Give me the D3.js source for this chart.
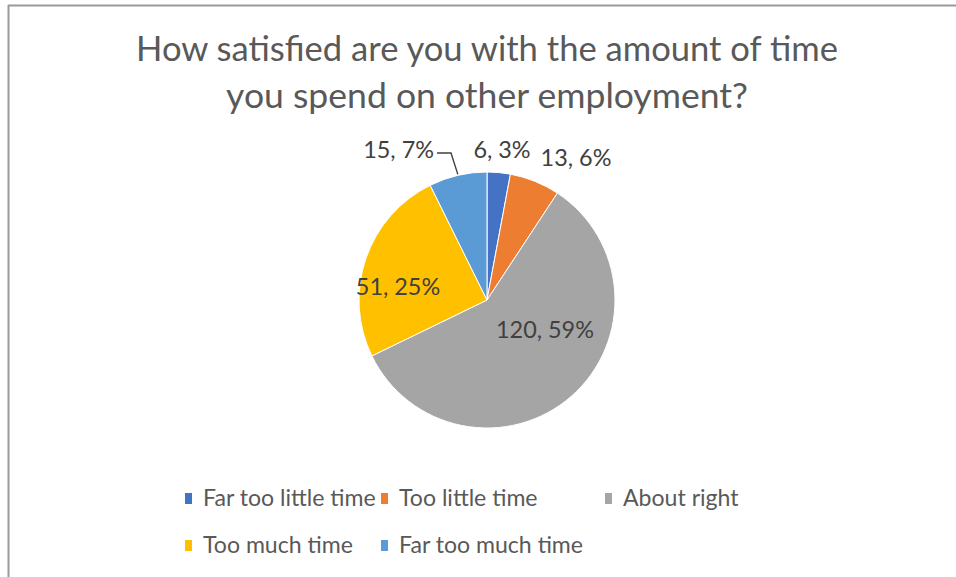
<!DOCTYPE html>
<html><head><meta charset="utf-8">
<script src="https://cdn.jsdelivr.net/npm/d3@7"></script>
<style>html,body{margin:0;padding:0;background:#fff;}svg{display:block;}</style>
</head><body>
<svg id="c" width="956" height="577"></svg>
<script>
const categories = ["Far too little time","Too little time","About right","Too much time","Far too much time"];
const values = [6, 13, 120, 51, 15];
const colors = ["#4472C4","#ED7D31","#A5A5A5","#FFC000","#5B9BD5"];
const titleLines = ["How satisfied are you with the amount of time","you spend on other employment?"];

const W = 956, H = 577;
const svg = d3.select("#c");
svg.append("rect").attr("width",W).attr("height",H).attr("fill","#fff");
svg.append("line").attr("x1",8).attr("x2",W).attr("y1",5.5).attr("y2",5.5).attr("stroke","#9a9a9a").attr("stroke-width",2);
svg.append("line").attr("x1",8.5).attr("x2",8.5).attr("y1",5).attr("y2",H).attr("stroke","#9a9a9a").attr("stroke-width",2);

const font = "Lato, 'Open Sans', sans-serif";
const titleY = [61, 108];
const titleW = [702, 522];
titleLines.forEach((t,i)=>{
  const el = svg.append("text").attr("x",487).attr("y",titleY[i]).attr("text-anchor","middle")
    .attr("font-family",font).attr("font-size",28).attr("fill","#595959").text(t);
  const w = el.node().getComputedTextLength();
  el.attr("font-size", 28*titleW[i]/w);
});

const cx = 487, cy = 300, R = 128;
const total = d3.sum(values);
const pie = d3.pie().sort(null).value(d=>d)(values);
const arc = d3.arc().innerRadius(0).outerRadius(R);
const g = svg.append("g").attr("transform",`translate(${cx},${cy})`);
g.selectAll("path").data(pie).join("path").attr("d",arc)
  .attr("fill",(d,i)=>colors[i]).attr("stroke","#fff").attr("stroke-width",1);

// data labels
const labelPos = [[15,-150],[89,-142],[58,30],[-89,-13],[-53,-150]];
const labelAnchor = ["middle","middle","middle","middle","end"];
const labels = pie.map((d,i)=>{
  const pct = Math.round(d.value/total*100);
  return svg.append("text").attr("x",cx+labelPos[i][0]).attr("y",cy+labelPos[i][1]).attr("dy","0.35em")
    .attr("text-anchor",labelAnchor[i]).attr("font-family",font).attr("font-size",20)
    .attr("fill","#404040").text(`${d.value}, ${pct}%`);
});
{
  const w = labels[2].node().getComputedTextLength();
  const fs = 20*98/w;
  labels.forEach(l=>l.attr("font-size",fs));
}
// leader line for "Far too much time"
{
  const d = pie[4];
  const a = (d.startAngle+d.endAngle)/2;
  const ex = cx + R*Math.sin(a), ey = cy - R*Math.cos(a);
  svg.append("polyline").attr("points",`${cx-50},${cy-147} ${cx-36},${cy-147} ${ex},${ey-1}`)
    .attr("fill","none").attr("stroke","#404040").attr("stroke-width",1.4);
}

// legend
const legendPos = [[188,498],[384,498],[608,498],[188,545],[384,545]];
const legendTexts = categories.map((c,i)=>{
  const [x,y] = legendPos[i];
  svg.append("rect").attr("x",x-3).attr("y",y-5).attr("width",7).attr("height",11).attr("fill",colors[i]);
  return svg.append("text").attr("x",x+15).attr("y",y).attr("dy","0.35em").attr("font-family",font)
    .attr("font-size",18).attr("fill","#595959").text(c);
});
{
  const tw = d3.sum(legendTexts, t=>t.node().getComputedTextLength());
  const fs = 18*(166+148+110+147+190)/tw;
  legendTexts.forEach(t=>t.attr("font-size",fs));
}
</script>
</body></html>
